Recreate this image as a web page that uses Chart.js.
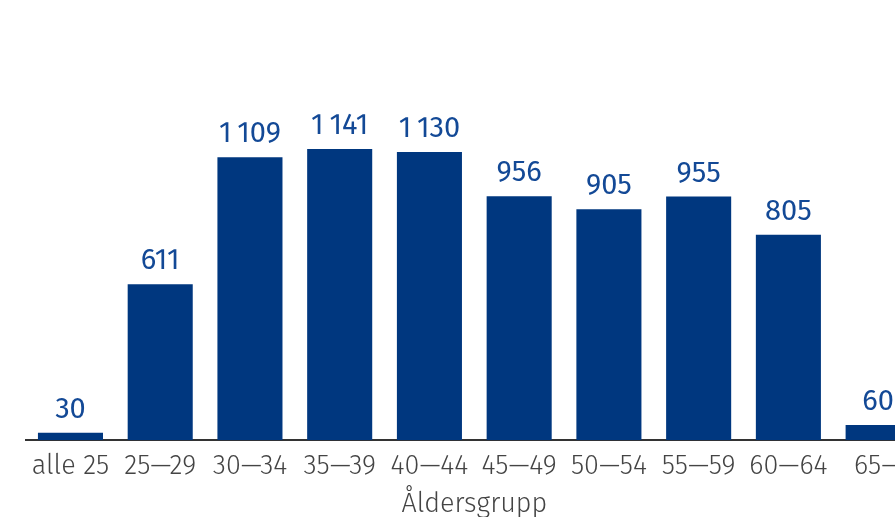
<!DOCTYPE html>
<html>
<head>
<meta charset="utf-8">
<script src="https://cdn.jsdelivr.net/npm/chart.js@4"></script>
<style>
  html, body { margin: 0; padding: 0; background: #fff; overflow: hidden; }
  #wrap { width: 925px; height: 517px; }
</style>
</head>
<body>
<div id="wrap"><canvas id="grafico" width="925" height="517"></canvas></div>
<script>
const categories = ['alle 25', '25—29', '30—34', '35—39', '40—44', '45—49', '50—54', '55—59', '60—64', '65—'];
const values = [30, 611, 1109, 1141, 1130, 956, 905, 955, 805, 60];
const axisTitle = 'Åldersgrupp';

const barColor = '#00377f';
const labelColor = '#134996';
const textColor = '#444444';
const fontFamily = '"Fira Sans", "Open Sans", "Noto Sans", sans-serif';

// 1 109 style, thin space as thousands separator
function fmt(v) {
  return String(v).replace(/\B(?=(\d{3})+(?!\d))/g, '\u2009');
}

const valueLabels = {
  id: 'valueLabels',
  afterDatasetsDraw(chart) {
    const {ctx} = chart;
    const meta = chart.getDatasetMeta(0);
    ctx.save();
    ctx.font = '29px ' + fontFamily;
    ctx.fillStyle = labelColor;
    ctx.textAlign = 'center';
    ctx.textBaseline = 'alphabetic';
    meta.data.forEach((bar, i) => {
      ctx.fillText(fmt(values[i]), bar.x, bar.y - 15);
    });
    ctx.restore();
  }
};

const ctx = document.getElementById('grafico').getContext('2d');
new Chart(ctx, {
  type: 'bar',
  data: {
    labels: categories,
    datasets: [{
      data: values,
      backgroundColor: barColor,
      borderWidth: 0,
      barPercentage: 0.725,
      categoryPercentage: 1.0,
    }]
  },
  options: {
    responsive: false,
    animation: false,
    layout: {
      padding: { top: 57.5, left: 25.6, right: 2, bottom: 0 }
    },
    plugins: {
      legend: { display: false },
      tooltip: { enabled: false }
    },
    scales: {
      x: {
        grid: { display: false, drawTicks: false },
        border: { display: true, color: '#333333', width: 2 },
        ticks: {
          color: textColor,
          padding: 10,
          font: { family: fontFamily, size: 27, weight: 300 },
          maxRotation: 0,
          autoSkip: false
        },
        title: {
          display: true,
          text: axisTitle,
          color: textColor,
          font: { family: fontFamily, size: 27, weight: 300, lineHeight: 0.9 },
          padding: { top: 0, bottom: 0 }
        }
      },
      y: {
        display: false,
        min: 0,
        max: 1500
      }
    }
  },
  plugins: [valueLabels]
});
</script>
</body>
</html>
